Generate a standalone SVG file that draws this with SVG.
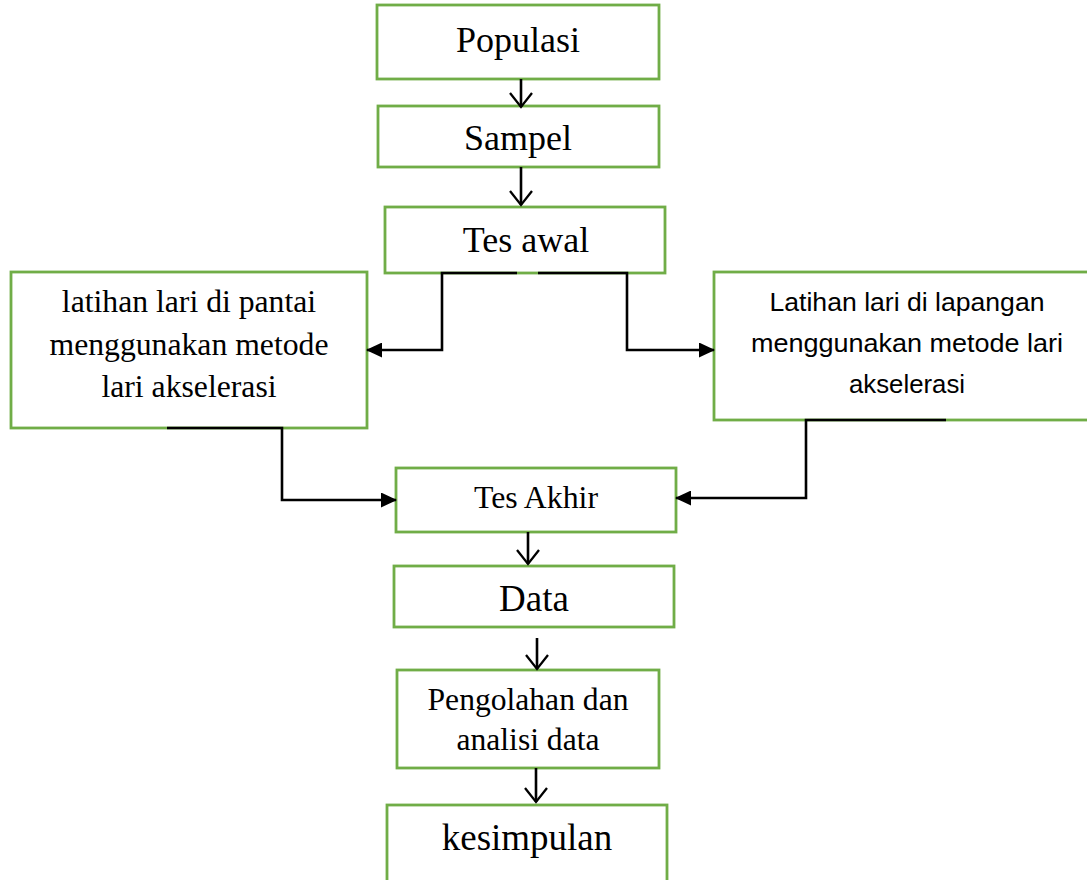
<svg xmlns="http://www.w3.org/2000/svg" width="1087" height="880" viewBox="0 0 1087 880">
<style>
.box{fill:#fff;stroke:#70AD47;stroke-width:2.8}
.t{font-family:"Liberation Serif","Times New Roman",serif;fill:#000;text-anchor:middle}
.s{font-family:"Liberation Sans",Arial,sans-serif;fill:#000;text-anchor:middle}
.c{fill:none;stroke:#000;stroke-width:2.6}
</style>
<defs>
<marker id="fa" viewBox="0 0 16 15" refX="15" refY="7.5" markerWidth="16" markerHeight="15" markerUnits="userSpaceOnUse" orient="auto">
<path d="M0,0 L16,7.5 L0,15 z" fill="#000"/>
</marker>
<marker id="oa" viewBox="-1 -1 17 24" refX="14" refY="11" markerWidth="17" markerHeight="24" markerUnits="userSpaceOnUse" orient="auto" overflow="visible">
<path d="M0,0 L14,11 L0,22" fill="none" stroke="#000" stroke-width="2.3"/>
</marker>
</defs>
<rect width="1087" height="880" fill="#fff"/>
<g id="populasi"><rect class="box" x="377" y="5" width="282" height="74"/><text class="t" x="518" y="52" font-size="36">Populasi</text></g>
<g id="sampel"><rect class="box" x="378" y="106" width="281" height="61"/><text class="t" x="518" y="150" font-size="36">Sampel</text></g>
<g id="tes-awal"><rect class="box" x="385" y="207" width="280" height="66"/><text class="t" x="526" y="252" font-size="36">Tes awal</text></g>
<g id="latihan-pantai"><rect class="box" x="11" y="272" width="356" height="156"/>
<text class="t" font-size="31.7"><tspan x="189" y="312">latihan lari di pantai</tspan><tspan x="189" y="355">menggunakan metode</tspan><tspan x="189" y="397">lari akselerasi</tspan></text></g>
<g id="latihan-lapangan"><rect class="box" x="714" y="272" width="390" height="148"/>
<text class="s" font-size="25.5"><tspan x="907" y="311" textLength="275" lengthAdjust="spacingAndGlyphs">Latihan lari di lapangan</tspan><tspan x="907" y="352" textLength="312" lengthAdjust="spacingAndGlyphs">menggunakan metode lari</tspan><tspan x="907" y="393" textLength="116" lengthAdjust="spacingAndGlyphs">akselerasi</tspan></text></g>
<g id="tes-akhir"><rect class="box" x="396" y="468" width="280" height="64"/><text class="t" x="536" y="508" font-size="31.8">Tes Akhir</text></g>
<g id="data"><rect class="box" x="394" y="566" width="280" height="61"/><text class="t" x="534" y="611" font-size="37">Data</text></g>
<g id="pengolahan"><rect class="box" x="397" y="670" width="262" height="98"/>
<text class="t" font-size="31.6"><tspan x="528" y="710">Pengolahan dan</tspan><tspan x="528" y="750">analisi data</tspan></text></g>
<g id="kesimpulan"><rect class="box" x="387" y="805" width="280" height="90"/><text class="t" x="527" y="850" font-size="37">kesimpulan</text></g>
<g id="connectors">
<path class="c" d="M521,79 V107" marker-end="url(#oa)"/>
<path class="c" d="M521,167 V205" marker-end="url(#oa)"/>
<path class="c" d="M517,273 H442 V350 H367" marker-end="url(#fa)"/>
<path class="c" d="M538,273 H627 V350 H714" marker-end="url(#fa)"/>
<path class="c" d="M167,428 H282 V500 H396" marker-end="url(#fa)"/>
<path class="c" d="M946,420 H806 V498 H676" marker-end="url(#fa)"/>
<path class="c" d="M528,532 V564" marker-end="url(#oa)"/>
<path class="c" d="M537,638 V669" marker-end="url(#oa)"/>
<path class="c" d="M536,768 V802" marker-end="url(#oa)"/>
</g>
</svg>
